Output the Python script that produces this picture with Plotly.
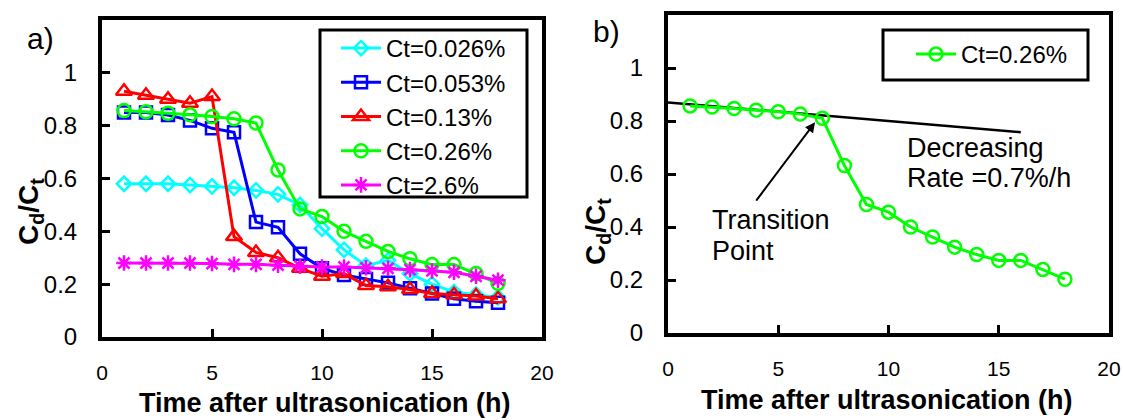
import plotly.graph_objects as go

# ---------------- data ----------------
time_h = list(range(1, 19))

ct_0026 = [0.58, 0.58, 0.58, 0.575, 0.57, 0.565, 0.555, 0.54, 0.50, 0.41,
           0.33, 0.27, 0.29, 0.24, 0.20, 0.17, 0.16, 0.15]
ct_0053 = [0.85, 0.85, 0.84, 0.82, 0.79, 0.775, 0.435, 0.415, 0.315, 0.26,
           0.235, 0.22, 0.205, 0.185, 0.165, 0.145, 0.135, 0.13]
ct_013 = [0.93, 0.915, 0.90, 0.885, 0.91, 0.38, 0.32, 0.30, 0.26, 0.23,
          0.24, 0.195, 0.19, 0.18, 0.165, 0.16, 0.155, 0.145]
ct_026 = [0.857, 0.853, 0.847, 0.841, 0.835, 0.826, 0.81, 0.632, 0.485, 0.456,
          0.40, 0.362, 0.324, 0.296, 0.274, 0.274, 0.24, 0.203]
ct_26 = [0.28, 0.28, 0.28, 0.28, 0.278, 0.275, 0.275, 0.272, 0.268, 0.265,
         0.265, 0.262, 0.26, 0.255, 0.25, 0.245, 0.23, 0.215]

fit_x = [0, 16]
fit_y = [0.87, 0.758]

x_ticks = [0, 5, 10, 15, 20]
y_ticks = [0, 0.2, 0.4, 0.6, 0.8, 1.0]

FONT = "Liberation Sans, Arial, sans-serif"
W, H = 1123, 420


def px_x(p):
    return p / W


def px_y(p):
    return 1 - p / H


series_a = [
    ("Ct=0.026%", ct_0026, "#00FFFF", "diamond-open", 11),
    ("Ct=0.053%", ct_0053, "#0000FF", "square-open", 12),
    ("Ct=0.13%", ct_013, "#FF0000", "triangle-up-open", 14),
    ("Ct=0.26%", ct_026, "#00FF00", "circle-open", 13),
    ("Ct=2.6%", ct_26, "#FF00FF", "asterisk-open", 13),
]

fig = go.Figure()
for name, vals, col, sym, sz in series_a:
    fig.add_trace(go.Scatter(
        x=time_h, y=vals, name=name, mode="lines+markers",
        line=dict(color=col, width=3),
        marker=dict(symbol=sym, size=sz, color=col, line=dict(color=col, width=2.5)),
        xaxis="x", yaxis="y", legend="legend",
    ))

fig.add_trace(go.Scatter(
    x=fit_x, y=fit_y, mode="lines", line=dict(color="black", width=2.5),
    showlegend=False, xaxis="x2", yaxis="y2",
))
fig.add_trace(go.Scatter(
    x=time_h, y=ct_026, name="Ct=0.26%", mode="lines+markers",
    line=dict(color="#00FF00", width=3),
    marker=dict(symbol="circle-open", size=13, color="#00FF00",
                line=dict(color="#00FF00", width=2.5)),
    xaxis="x2", yaxis="y2", legend="legend2",
))

axis_common = dict(
    showline=True, linecolor="black", linewidth=4, mirror=True,
    ticks="inside", ticklen=8, tickwidth=3, tickcolor="black",
    showgrid=False, zeroline=False, automargin=False,
)

xa_dom = [102 / W, 542 / W]
xb_dom = [668 / W, 1109 / W]
ya_dom = [1 - 337 / H, 1 - 20 / H]
yb_dom = [1 - 333 / H, 1 - 15 / H]

fig.update_layout(
    width=W, height=H, margin=dict(l=0, r=0, t=0, b=0),
    paper_bgcolor="white", plot_bgcolor="white",
    font=dict(family=FONT, color="black"),
    xaxis=dict(domain=xa_dom, range=[0, 20], tickvals=x_ticks, ticklabelstandoff=14,
               tickfont=dict(size=21), anchor="y", **axis_common),
    yaxis=dict(domain=ya_dom, range=[0, 1.2], tickvals=y_ticks, ticklabelstandoff=16,
               tickfont=dict(size=24), anchor="x", **axis_common),
    xaxis2=dict(domain=xb_dom, range=[0, 20], tickvals=x_ticks, ticklabelstandoff=14,
                tickfont=dict(size=21), anchor="y2", **axis_common),
    yaxis2=dict(domain=yb_dom, range=[0, 1.2], tickvals=y_ticks, ticklabelstandoff=16,
                tickfont=dict(size=24), anchor="x2", **axis_common),
    legend=dict(x=px_x(336), y=px_y(26), xanchor="left", yanchor="top",
                bgcolor="rgba(0,0,0,0)", borderwidth=0, font=dict(size=24),
                tracegroupgap=0, itemwidth=40),
    legend2=dict(x=px_x(911), y=px_y(32), xanchor="left", yanchor="top",
                 bgcolor="rgba(0,0,0,0)", borderwidth=0, font=dict(size=24),
                 itemwidth=40),
    showlegend=True,
)

# legend frames
fig.add_shape(type="rect", xref="paper", yref="paper",
              x0=px_x(320), x1=px_x(527), y0=px_y(197), y1=px_y(30),
              line=dict(color="black", width=3), fillcolor="white", layer="below")
fig.add_shape(type="rect", xref="paper", yref="paper",
              x0=px_x(883), x1=px_x(1088), y0=px_y(80), y1=px_y(30),
              line=dict(color="black", width=3), fillcolor="white", layer="below")

C = dict(xanchor="center", yanchor="middle", showarrow=False)
ann = [
    dict(text="a)", x=px_x(40), y=px_y(38), xref="paper", yref="paper",
         font=dict(size=30), **C),
    dict(text="b)", x=px_x(606), y=px_y(32), xref="paper", yref="paper",
         font=dict(size=30), **C),
    dict(text="<b>Time after ultrasonication (h)</b>", x=px_x(325), y=px_y(403),
         xref="paper", yref="paper", font=dict(size=27), **C),
    dict(text="<b>Time after ultrasonication (h)</b>", x=px_x(887), y=px_y(400),
         xref="paper", yref="paper", font=dict(size=27), **C),
    dict(text="<b>C<sub>d</sub>/C<sub>t</sub></b>", x=px_x(30), y=px_y(212),
         xref="paper", yref="paper", textangle=-90, font=dict(size=28), **C),
    dict(text="<b>C<sub>d</sub>/C<sub>t</sub></b>", x=px_x(597), y=px_y(232),
         xref="paper", yref="paper", textangle=-90, font=dict(size=28), **C),
]
for txt, xx, yy in [("Decreasing", 10.75, 0.699), ("Rate =0.7%/h", 10.75, 0.586),
                    ("Transition", 1.9, 0.425), ("Point", 1.9, 0.308)]:
    ann.append(dict(text=txt, x=xx, y=yy, xref="x2", yref="y2", xanchor="left",
                    yanchor="middle", showarrow=False, font=dict(size=27)))
ann.append(dict(text="", x=6.67, y=0.795, ax=3.95, ay=0.494, xref="x2", yref="y2",
                axref="x2", ayref="y2", showarrow=True, arrowhead=2, arrowsize=1,
                arrowwidth=2, arrowcolor="black"))
fig.update_layout(annotations=ann)

fig.write_html("out.html")
